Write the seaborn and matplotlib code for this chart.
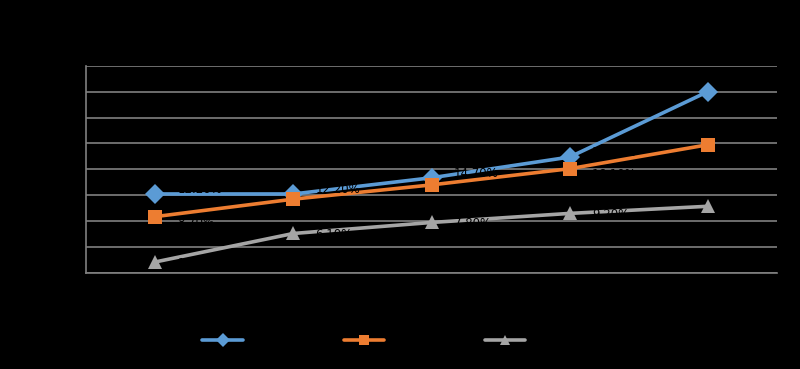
import pandas as pd
import matplotlib.pyplot as plt
import seaborn as sns

# values (share, %)
years = ['2015', '2016', '2017', '2018', '2019']
series_a = [12.2, 12.2, 14.7, 17.9, 28.0]
series_b = [8.7, 11.4, 13.6, 16.1, 19.8]
series_c = [1.7, 6.1, 7.8, 9.2, 10.3]
names = ['Series A', 'Series B', 'Series C']

colors = {'Series A': '#5B9BD5', 'Series B': '#ED7D31', 'Series C': '#A5A5A5'}
markers = {'Series A': 'D', 'Series B': 's', 'Series C': '^'}
label_dy = {'Series A': 3, 'Series B': -4, 'Series C': -1}

rows = []
for name, vals in zip(names, [series_a, series_b, series_c]):
    for i, v in enumerate(vals):
        rows.append({'pos': i, 'year': years[i], 'series': name, 'value': v})
df = pd.DataFrame(rows)

sns.set_style('dark')
plt.rcParams['font.family'] = ['DejaVu Sans']

fig = plt.figure(figsize=(8, 3.69), dpi=100, facecolor='black')
ax = fig.add_axes([86 / 800, 1 - 273 / 369, (777 - 86) / 800, (273 - 65.7) / 369])
ax.set_facecolor('black')

sns.lineplot(data=df, x='pos', y='value', hue='series', style='series',
             palette=colors, markers=markers, dashes=False, linewidth=2.6,
             markersize=10, markeredgewidth=0, ax=ax, zorder=3)

# data labels (black text, as in the source)
for name, vals in zip(names, [series_a, series_b, series_c]):
    for i, v in enumerate(vals):
        ax.annotate(f"{v:.2f}%", (i, v), xytext=(16, label_dy[name]), textcoords='offset points',
                    ha='left', va='center', fontsize=8.5, color='black', zorder=4)

ax.set_xlim(-0.5, 4.5)
ax.set_ylim(0, 32)
ax.set_yticks(range(0, 33, 4))
ax.set_yticklabels([f"{t}%" for t in range(0, 33, 4)], color='black', fontsize=9)
ax.set_xticks([x - 0.5 for x in range(6)])
ax.set_xticklabels([])
ax.set_xticks(range(5), minor=True)
ax.set_xticklabels(years, minor=True, color='black', fontsize=9)
ax.tick_params(axis='x', which='major', length=6, color='#808080', width=1.2, direction='out')
ax.tick_params(axis='x', which='minor', length=0, pad=10)
ax.tick_params(axis='y', length=5, color='#808080', width=1.2, direction='out')

ax.grid(axis='y', color='#808080', linewidth=1.2)
ax.grid(axis='x', visible=False)
for side in ['top', 'right']:
    ax.spines[side].set_visible(False)
for side in ['left', 'bottom']:
    ax.spines[side].set_visible(True)
    ax.spines[side].set_color('#808080')
    ax.spines[side].set_linewidth(1.2)
ax.set_xlabel('')
ax.set_ylabel('')

leg = ax.legend(loc='center', bbox_to_anchor=(0.497, 28 / 369), bbox_transform=fig.transFigure,
                ncol=3, frameon=False, handlelength=2.9, columnspacing=2.4, fontsize=10,
                markerscale=0.75)
for t in leg.get_texts():
    t.set_color('black')

fig.savefig('out.png', dpi=100, facecolor='black')
